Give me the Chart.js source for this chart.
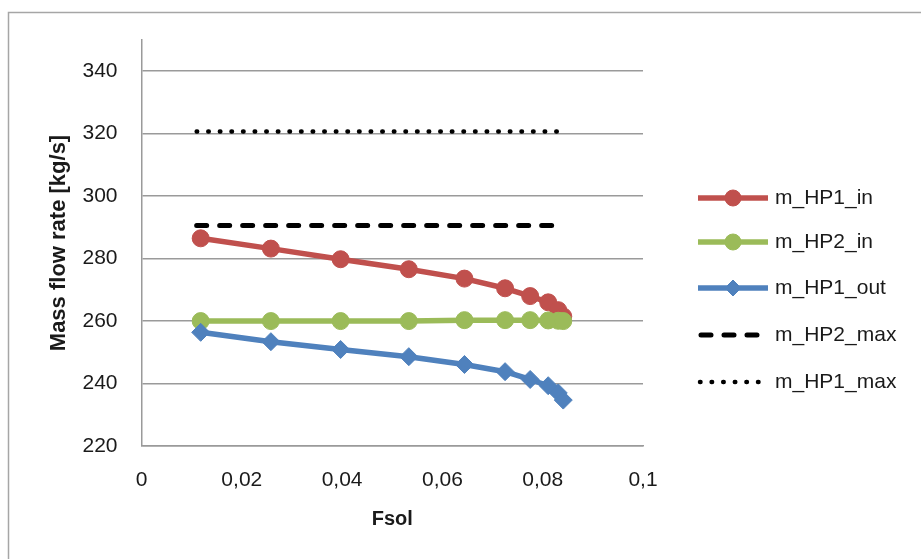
<!DOCTYPE html>
<html>
<head>
<meta charset="utf-8">
<title>Mass flow rate vs Fsol</title>
<script src="https://cdn.jsdelivr.net/npm/chart.js@4/dist/chart.umd.min.js"></script>
<style>
  html, body { margin: 0; padding: 0; background: #fff; }
  #wrap { width: 921px; height: 559px; }
</style>
</head>
<body>
<div id="wrap"><canvas id="flowChart" width="921" height="559"></canvas></div>
<script>
// Fsol values (x) and mass flows in kg/s
const fsol = [0.0118, 0.0258, 0.0397, 0.0533, 0.0644, 0.0725, 0.0775, 0.0811, 0.0831, 0.0841];
const hp1In = [286.5, 283.2, 279.8, 276.6, 273.6, 270.5, 268.0, 266.0, 263.5, 261.5];
const hp2In = [260.0, 260.0, 260.0, 260.0, 260.3, 260.3, 260.3, 260.2, 260.1, 260.0];
const hp1Out = [256.4, 253.4, 250.9, 248.6, 246.1, 243.8, 241.3, 239.3, 237.0, 234.7];

// limit lines
const limitX = [0.011, 0.083];
const hp2Max = [290.6, 290.6];
const hp1Max = [320.7, 320.7];

const xTicks = [0, 0.02, 0.04, 0.06, 0.08, 0.1];
const yTicks = [220, 240, 260, 280, 300, 320, 340];

const FONT = "'Liberation Sans', Arial, sans-serif";
const TEXT = '#1a1a1a';
const GRID = '#9a9a9a';

function pts(xs, ys) {
    return xs.map((x, i) => ({ x: x, y: ys[i] }));
}

const seriesStyle = [
    { label: 'm_HP1_in', color: '#C0504D', marker: 'circle', radius: 8.5 },
    { label: 'm_HP2_in', color: '#9BBB59', marker: 'circle', radius: 8.5 },
    { label: 'm_HP1_out', color: '#4F81BD', marker: 'rectRot', radius: 9 },
    { label: 'm_HP2_max', color: '#000000', dash: [10, 13], width: 5 },
    { label: 'm_HP1_max', color: '#000000', dash: [0.5, 11.1], width: 4.5 }
];

const datasets = [
    { data: pts(fsol, hp1In) },
    { data: pts(fsol, hp2In) },
    { data: pts(fsol, hp1Out) },
    { data: pts(limitX, hp2Max) },
    { data: pts(limitX, hp1Max) }
].map((ds, i) => {
    const s = seriesStyle[i];
    return Object.assign(ds, {
        label: s.label,
        showLine: true,
        order: seriesStyle.length - i,
        borderColor: s.color,
        backgroundColor: s.color,
        borderWidth: s.width || 5.5,
        borderDash: s.dash || [],
        borderCapStyle: s.dash ? 'round' : 'butt',
        borderJoinStyle: 'round',
        pointStyle: s.marker || 'circle',
        pointRadius: s.marker ? s.radius : 0,
        pointHoverRadius: s.marker ? s.radius : 0,
        pointBorderWidth: 1,
        pointBorderColor: s.color,
        pointBackgroundColor: s.color
    });
});

// outer frame of the chart
const frame = {
    id: 'frame',
    beforeDraw(chart) {
        const ctx = chart.ctx;
        ctx.save();
        ctx.strokeStyle = '#a6a6a6';
        ctx.lineWidth = 1.5;
        ctx.beginPath();
        ctx.moveTo(8.5, chart.height + 5);
        ctx.lineTo(8.5, 12.5);
        ctx.lineTo(chart.width + 5, 12.5);
        ctx.stroke();
        ctx.restore();
    }
};

// legend on the right: line sample with marker, then the name
const sideLegend = {
    id: 'sideLegend',
    afterDraw(chart) {
        const ctx = chart.ctx;
        const x0 = 698, x1 = 768, textX = 775;
        const rows = [198, 242, 288, 335, 382];
        ctx.save();
        seriesStyle.forEach((s, i) => {
            const y = rows[i];
            ctx.strokeStyle = s.color;
            ctx.fillStyle = s.color;
            ctx.lineWidth = s.width || 5.5;
            ctx.setLineDash(s.dash || []);
            ctx.lineCap = s.dash ? 'round' : 'butt';
            ctx.beginPath();
            if (s.dash && s.dash[0] > 1) {
                ctx.moveTo(x0 + 3, y);
                ctx.lineTo(x1 - 2, y);
            } else if (s.dash) {
                ctx.moveTo(x0 + 2, y);
                ctx.lineTo(x1, y);
            } else {
                ctx.moveTo(x0, y);
                ctx.lineTo(x1, y);
            }
            ctx.stroke();
            ctx.setLineDash([]);
            if (s.marker) {
                ctx.lineWidth = 1;
                Chart.helpers.drawPoint(ctx, {
                    pointStyle: s.marker,
                    radius: s.marker === 'rectRot' ? 8 : 8,
                    rotation: 0,
                    borderWidth: 1
                }, (x0 + x1) / 2, y);
            }
            ctx.fillStyle = TEXT;
            ctx.font = '21px ' + FONT;
            ctx.textAlign = 'left';
            ctx.textBaseline = 'middle';
            ctx.fillText(s.label, textX, y);
        });
        ctx.restore();
    }
};

new Chart(document.getElementById('flowChart'), {
    type: 'scatter',
    data: { datasets: datasets },
    options: {
        responsive: false,
        animation: false,
        events: [],
        layout: { padding: { top: 40, right: 278, left: 0, bottom: 0 } },
        plugins: {
            legend: { display: false },
            tooltip: { enabled: false }
        },
        scales: {
            x: {
                type: 'linear',
                min: xTicks[0],
                max: xTicks[xTicks.length - 1],
                afterFit(scale) { scale.height = 113; },
                afterBuildTicks(scale) { scale.ticks = xTicks.map(v => ({ value: v })); },
                grid: { display: false, drawTicks: false },
                border: { display: true, color: GRID, width: 1.5 },
                ticks: {
                    padding: 22,
                    color: TEXT,
                    font: { family: FONT, size: 21 },
                    maxRotation: 0,
                    callback: v => String(Math.round(v * 100) / 100).replace('.', ',')
                },
                title: {
                    display: true,
                    text: 'Fsol',
                    color: TEXT,
                    font: { family: FONT, size: 20, weight: 'bold' },
                    padding: { top: 0, bottom: 28 }
                }
            },
            y: {
                type: 'linear',
                min: 220,
                max: 350,
                afterFit(scale) { scale.width = 141.5; },
                afterBuildTicks(scale) { scale.ticks = yTicks.map(v => ({ value: v })); },
                grid: { display: true, drawTicks: false, color: GRID, lineWidth: 1.5 },
                border: { display: true, color: GRID, width: 1.5 },
                ticks: {
                    padding: 24,
                    color: TEXT,
                    font: { family: FONT, size: 21 }
                },
                title: {
                    display: true,
                    text: 'Mass flow rate [kg/s]',
                    color: TEXT,
                    font: { family: FONT, size: 22, weight: 'bold' },
                    padding: { top: 46, bottom: 0 }
                }
            }
        }
    },
    plugins: [frame, sideLegend]
});
</script>
</body>
</html>
